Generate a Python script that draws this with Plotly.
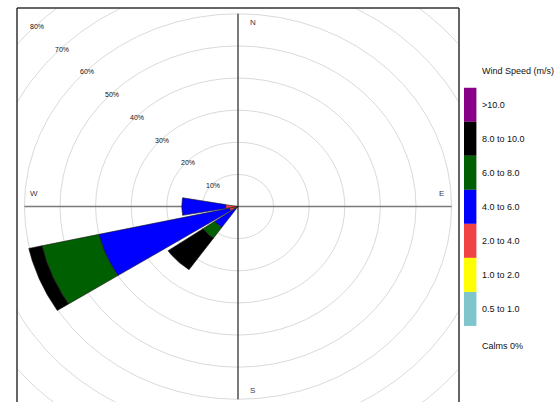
import numpy as np
import plotly.graph_objects as go

# ---------------- data ----------------
directions = ["W", "WSW", "SW"]
direction_deg = [270.0, 247.5, 225.0]

# frequency (%) per speed bin, per direction (stacked from low to high speed)
freq_05_1 = [0.0, 0.0, 0.0]
freq_1_2 = [0.0, 0.0, 0.0]
freq_2_4 = [3.5, 2.5, 1.0]
freq_4_6 = [12.3, 37.5, 7.0]
freq_6_8 = [0.0, 16.4, 4.0]
freq_8_10 = [0.0, 3.8, 12.0]
freq_gt10 = [0.0, 0.0, 0.0]

bin_labels = ["0.5 to 1.0", "1.0 to 2.0", "2.0 to 4.0", "4.0 to 6.0",
              "6.0 to 8.0", "8.0 to 10.0", ">10.0"]
bin_colors = ["#7fc6cc", "#ffff00", "#f04343", "#0000ff",
              "#005f00", "#000000", "#870087"]
bin_values = [freq_05_1, freq_1_2, freq_2_4, freq_4_6, freq_6_8, freq_8_10, freq_gt10]

ring_values = [10, 20, 30, 40, 50, 60, 70, 80]
ring_labels = ["10%", "20%", "30%", "40%", "50%", "60%", "70%", "80%"]

compass_labels = ["N", "E", "S", "W"]
compass_deg = [0, 90, 180, 270]

legend_title = "Wind Speed (m/s)"
calms_label = "Calms 0%"

# ---------------- geometry / style ----------------
W, H = 556, 402
ML, MR, MT, MB = 17.3, 96.7, 8.3, 0
sector_width = 20.0
axis_extent = 60.0
label_radius = 57.2
label_offset = 4.1
FONT = "Liberation Sans, Arial, sans-serif"

pw = W - ML - MR
ph = H - MT - MB


def px_x(px):
    return (px - ML) / pw


def px_y(py):
    return (H - MB - py) / ph


fig = go.Figure()

# wedges
for di, (dname, deg) in enumerate(zip(directions, direction_deg)):
    base = 0.0
    for bi in range(len(bin_values)):
        v = bin_values[bi][di]
        if v <= 0:
            continue
        r0, r1 = base, base + v
        th = np.radians(np.linspace(deg - sector_width / 2, deg + sector_width / 2, 40))
        xs = np.concatenate([r1 * np.sin(th), r0 * np.sin(th[::-1])])
        ys = np.concatenate([r1 * np.cos(th), r0 * np.cos(th[::-1])])
        xs = np.append(xs, xs[0])
        ys = np.append(ys, ys[0])
        fig.add_trace(go.Scatter(
            x=xs, y=ys, mode="lines", fill="toself",
            fillcolor=bin_colors[bi],
            line=dict(color="#1a1a1a", width=0.6),
            hoverinfo="text", text=f"{dname} {bin_labels[bi]}: {v}%",
            showlegend=False,
        ))
        base = r1

shapes = []
# rings
for r in ring_values:
    shapes.append(dict(type="circle", xref="x", yref="y", x0=-r, x1=r, y0=-r, y1=r,
                       line=dict(color="#dadada", width=1), layer="below"))
# cross axes
shapes.append(dict(type="line", xref="x", yref="y", x0=-axis_extent, x1=axis_extent, y0=0, y1=0,
                   line=dict(color="#7a7a7a", width=1.5), layer="below"))
shapes.append(dict(type="line", xref="x", yref="y", x0=0, x1=0, y0=-axis_extent, y1=axis_extent,
                   line=dict(color="#222222", width=1.2), layer="below"))
# frame (left, top, right)
frame_col = "#333333"
shapes.append(dict(type="line", xref="paper", yref="paper", x0=0, x1=0, y0=0, y1=1,
                   line=dict(color=frame_col, width=1.5)))
shapes.append(dict(type="line", xref="paper", yref="paper", x0=0, x1=1, y0=1, y1=1,
                   line=dict(color=frame_col, width=1.5)))
shapes.append(dict(type="line", xref="paper", yref="paper", x0=1, x1=1, y0=0, y1=1,
                   line=dict(color=frame_col, width=1.5)))

# legend swatches (top = highest speed)
sw_top, sw_h = 88.0, 34.0
sw_x0, sw_x1 = 464.3, 476.7
annotations = []
for k, (lab, col) in enumerate(zip(bin_labels[::-1], bin_colors[::-1])):
    y0 = sw_top + k * sw_h
    shapes.append(dict(type="rect", xref="paper", yref="paper",
                       x0=px_x(sw_x0), x1=px_x(sw_x1), y0=px_y(y0 + sw_h), y1=px_y(y0),
                       fillcolor=col, line=dict(width=0)))
    annotations.append(dict(xref="paper", yref="paper", x=px_x(480.0), y=px_y(y0 + sw_h / 2 + 0.5),
                            text=lab, showarrow=False, xanchor="left", yanchor="middle",
                            font=dict(family=FONT, size=9, color="#111111")))

annotations.append(dict(xref="paper", yref="paper", x=px_x(480.0), y=px_y(71),
                        text=legend_title, showarrow=False, xanchor="left", yanchor="middle",
                        font=dict(family=FONT, size=9, color="#111111")))
annotations.append(dict(xref="paper", yref="paper", x=px_x(480.0), y=px_y(346),
                        text=calms_label, showarrow=False, xanchor="left", yanchor="middle",
                        font=dict(family=FONT, size=9, color="#111111")))

# ring labels along NW
for r, lab in zip(ring_values, ring_labels):
    ang = np.radians(315)
    annotations.append(dict(x=r * np.sin(ang), y=r * np.cos(ang) - 0.5, text=lab,
                            showarrow=False, xanchor="center", yanchor="middle",
                            font=dict(family=FONT, size=7, color="#111111")))

# compass labels
for lab, deg in zip(compass_labels, compass_deg):
    a = np.radians(deg)
    if lab in ("W", "E"):
        yy = label_radius * np.cos(a) + label_offset
        xx = label_radius * np.sin(a)
    else:
        yy = label_radius * np.cos(a)
        xx = label_radius * np.sin(a) + label_offset
    annotations.append(dict(x=xx, y=yy, text=lab, showarrow=False,
                            xanchor="center", yanchor="middle",
                            font=dict(family=FONT, size=8, color="#3a3a4a")))

x_half = (pw / 2) / 3.56
y_top = (206.7 - MT) / 3.21
y_bot = (H - MB - 206.7) / 3.21

fig.update_layout(
    width=W, height=H,
    margin=dict(l=ML, r=MR, t=MT, b=MB, pad=0),
    paper_bgcolor="white", plot_bgcolor="white",
    showlegend=False,
    shapes=shapes, annotations=annotations,
    xaxis=dict(range=[-x_half, x_half], visible=False, fixedrange=True),
    yaxis=dict(range=[-y_bot, y_top], visible=False, fixedrange=True),
    font=dict(family=FONT),
)

fig.write_html(
    "out.html",
    config={"displayModeBar": False},
    post_script="document.body.style.margin='0';document.body.style.overflow='hidden';",
)
